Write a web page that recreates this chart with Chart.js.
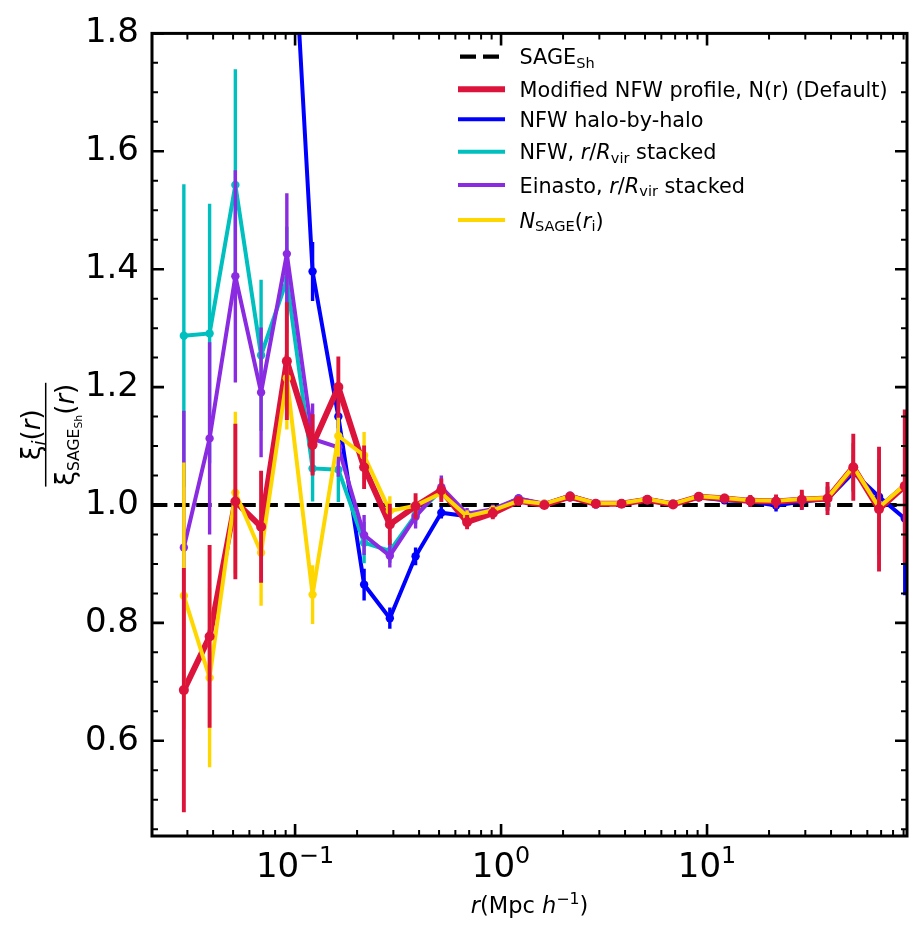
<!DOCTYPE html>
<html>
<head>
<title>xi ratio</title>
<style>
  body { margin: 0; background: #fff; }
  #wrap { width: 922px; height: 937px; }
</style>
</head>
<body>
<div id="wrap"><canvas id="ratio" width="922" height="937"></canvas></div>
<script src="https://cdn.jsdelivr.net/npm/chart.js@4.4.1/dist/chart.umd.min.js"></script>
<script>
// radial bins, Mpc/h
const radius = [0.02884, 0.03846, 0.05129, 0.06839, 0.0912, 0.1216, 0.1622, 0.2163, 0.2884, 0.3846,
  0.5129, 0.6839, 0.912, 1.216, 1.622, 2.163, 2.884, 3.846, 5.129, 6.839,
  9.12, 12.16, 16.22, 21.63, 28.84, 38.46, 51.29, 68.39, 91.2];

const sageSh = [1.0, 1.0];

const modNfw = [0.686, 0.777, 1.006, 0.963, 1.244, 1.102, 1.200, 1.064, 0.967, 0.998,
  1.025, 0.971, 0.986, 1.007, 1.000, 1.014, 1.002, 1.002, 1.009, 1.001,
  1.014, 1.011, 1.007, 1.006, 1.009, 1.011, 1.064, 0.993, 1.032];
const modNfwErr = [0.207, 0.155, 0.132, 0.095, 0.100, 0.052, 0.052, 0.037, 0.035, 0.022,
  0.020, 0.012, 0.010, 0.008, 0.006, 0.006, 0.005, 0.005, 0.006, 0.006,
  0.006, 0.006, 0.010, 0.012, 0.017, 0.028, 0.057, 0.106, 0.130];

const haloByHalo = [3.3, 3.0, 2.8, 2.5, 2.18, 1.396, 1.150, 0.865, 0.808, 0.913,
  0.987, 0.981, 0.990, 1.011, 1.001, 1.013, 1.001, 1.002, 1.008, 1.001,
  1.013, 1.008, 1.006, 0.999, 1.006, 1.010, 1.055, 1.014, 0.977];
const haloByHaloErr = [0.3, 0.3, 0.3, 0.3, 0.2, 0.050, 0.020, 0.027, 0.018, 0.015,
  0.010, 0.008, 0.006, 0.005, 0.004, 0.004, 0.004, 0.004, 0.005, 0.005,
  0.005, 0.006, 0.008, 0.010, 0.014, 0.020, 0.030, 0.060, 0.130];

const nfwStacked = [1.287, 1.291, 1.543, 1.254, 1.382, 1.062, 1.060, 0.936, 0.922, 0.983,
  1.025, 0.982, 0.992, 1.010, 1.001, 1.015, 1.002, 1.003, 1.010, 1.002,
  1.014, 1.011, 1.007, 1.006, 1.009, 1.011, 1.062, 0.996, 1.030];
const nfwStackedErr = [0.257, 0.220, 0.196, 0.128, 0.090, 0.056, 0.055, 0.035, 0.020, 0.015,
  0.012, 0.010, 0.008, 0.006, 0.005, 0.005, 0.005, 0.005, 0.005, 0.005,
  0.005, 0.006, 0.008, 0.010, 0.014, 0.020, 0.040, 0.080, 0.100];

const einasto = [0.928, 1.113, 1.388, 1.191, 1.426, 1.112, 1.098, 0.949, 0.914, 0.980,
  1.030, 0.985, 0.993, 1.011, 1.002, 1.016, 1.003, 1.003, 1.010, 1.002,
  1.015, 1.012, 1.008, 1.007, 1.010, 1.012, 1.065, 0.997, 1.033];
const einastoErr = [0.232, 0.163, 0.180, 0.110, 0.103, 0.060, 0.050, 0.034, 0.020, 0.020,
  0.020, 0.010, 0.008, 0.006, 0.005, 0.005, 0.005, 0.005, 0.005, 0.005,
  0.005, 0.006, 0.008, 0.010, 0.014, 0.020, 0.040, 0.080, 0.100];

const nSage = [0.846, 0.707, 1.021, 0.919, 1.215, 0.848, 1.117, 1.084, 0.990, 0.999,
  1.020, 0.981, 0.991, 1.007, 1.002, 1.015, 1.003, 1.003, 1.010, 1.002,
  1.015, 1.012, 1.008, 1.007, 1.010, 1.012, 1.065, 0.996, 1.034];
const nSageErr = [0.226, 0.152, 0.137, 0.090, 0.087, 0.050, 0.035, 0.040, 0.025, 0.015,
  0.012, 0.010, 0.008, 0.006, 0.005, 0.005, 0.005, 0.005, 0.005, 0.005,
  0.005, 0.006, 0.008, 0.010, 0.014, 0.020, 0.040, 0.080, 0.100];

const xRange = [0.0202, 93.5];
const yRange = [0.4385, 1.8];
const yTicks = [0.6, 0.8, 1.0, 1.2, 1.4, 1.6, 1.8];
const yTickLabels = ['0.6', '0.8', '1.0', '1.2', '1.4', '1.6', '1.8'];
const xTicks = [0.1, 1, 10];
const xTickLabels = [['10', '\u22121'], ['10', '0'], ['10', '1']];

const FONT = '"DejaVu Sans"';
Chart.defaults.font.family = FONT;

function pts(vals) {
  return radius.map((r, i) => ({ x: r, y: vals[i] }));
}

function series(label, vals, color, width, rad, order, errs) {
  return {
    label: label,
    data: pts(vals),
    borderColor: color,
    backgroundColor: color,
    borderWidth: width,
    pointRadius: rad,
    pointBackgroundColor: color,
    pointBorderColor: color,
    pointBorderWidth: 0,
    pointHoverRadius: rad,
    tension: 0,
    order: order,
    errors: errs,
    errColor: color
  };
}

// rich text helpers (sub/superscripts)
function fontOf(s, size) {
  return (s.it ? 'italic ' : '') + (size * (s.k || 1)) + 'px ' + FONT;
}
function richWidth(ctx, segs, size) {
  let w = 0;
  segs.forEach(s => { ctx.font = fontOf(s, size); w += ctx.measureText(s.t).width; });
  return w;
}
function drawRich(ctx, segs, x, y, size) {
  segs.forEach(s => {
    ctx.font = fontOf(s, size);
    ctx.fillText(s.t, x, y + (s.dy || 0) * size);
    x += ctx.measureText(s.t).width;
  });
  return x;
}

const errorBars = {
  id: 'errorBars',
  beforeDatasetDraw(chart, args) {
    const ds = chart.data.datasets[args.index];
    if (!ds.errors) return;
    const { ctx, chartArea: a, scales: { x, y } } = chart;
    ctx.save();
    ctx.beginPath();
    ctx.rect(a.left, a.top, a.right - a.left, a.bottom - a.top);
    ctx.clip();
    ctx.strokeStyle = ds.errColor;
    ctx.lineWidth = ds.errWidth || 3.4;
    ds.data.forEach((p, i) => {
      const e = ds.errors[i];
      const px = x.getPixelForValue(p.x);
      ctx.beginPath();
      ctx.moveTo(px, y.getPixelForValue(p.y - e));
      ctx.lineTo(px, y.getPixelForValue(p.y + e));
      ctx.stroke();
    });
    ctx.restore();
  }
};

const frame = {
  id: 'frame',
  afterDatasetsDraw(chart) {
    const { ctx, chartArea: a, scales: { x, y } } = chart;
    ctx.save();
    ctx.strokeStyle = '#000';
    ctx.lineCap = 'butt';
    function yTick(v, len, w) {
      const py = y.getPixelForValue(v);
      ctx.lineWidth = w;
      ctx.beginPath();
      ctx.moveTo(a.left, py); ctx.lineTo(a.left + len, py);
      ctx.moveTo(a.right, py); ctx.lineTo(a.right - len, py);
      ctx.stroke();
    }
    function xTick(v, len, w) {
      const px = x.getPixelForValue(v);
      ctx.lineWidth = w;
      ctx.beginPath();
      ctx.moveTo(px, a.bottom); ctx.lineTo(px, a.bottom - len);
      ctx.moveTo(px, a.top); ctx.lineTo(px, a.top + len);
      ctx.stroke();
    }
    for (let i = 9; i <= 36; i++) {
      const v = i * 0.05;
      if (i % 4 !== 0) yTick(v, 6, 2);
    }
    yTicks.forEach(v => yTick(v, 12, 2.6));
    for (let d = -2; d <= 1; d++) {
      for (let m = 2; m <= 9; m++) {
        const v = m * Math.pow(10, d);
        if (v > xRange[0] && v < xRange[1]) xTick(v, 6, 2);
      }
    }
    xTicks.forEach(v => xTick(v, 12, 2.6));
    ctx.lineWidth = 3;
    ctx.strokeRect(a.left, a.top, a.right - a.left, a.bottom - a.top);
    ctx.restore();
  },
  afterDraw(chart) {
    const { ctx, chartArea: a, scales: { x } } = chart;
    ctx.save();
    ctx.fillStyle = '#000';
    ctx.textBaseline = 'alphabetic';
    ctx.textAlign = 'left';

    // x tick labels
    xTicks.forEach((v, i) => {
      const segs = [{ t: xTickLabels[i][0] }, { t: xTickLabels[i][1], k: 0.7, dy: -0.41 }];
      const w = richWidth(ctx, segs, 34);
      drawRich(ctx, segs, x.getPixelForValue(v) - w / 2, 877, 34);
    });

    // x title
    const xt = [{ t: 'r', it: true }, { t: '(Mpc ' }, { t: 'h', it: true },
      { t: '\u22121', k: 0.7, dy: -0.4 }, { t: ')' }];
    const xw = richWidth(ctx, xt, 22.5);
    drawRich(ctx, xt, (a.left + a.right) / 2 - xw / 2, 913, 22.5);

    // y title as a fraction
    ctx.save();
    ctx.translate(45.7, (a.top + a.bottom) / 2);
    ctx.rotate(-Math.PI / 2);
    const num = [{ t: '\u03be' }, { t: 'i', it: true, k: 0.7, dy: 0.2 }, { t: '(' }, { t: 'r', it: true }, { t: ')' }];
    const den = [{ t: '\u03be' }, { t: 'SAGE', k: 0.6, dy: 0.2 }, { t: 'Sh', k: 0.42, dy: 0.33 },
      { t: '(' }, { t: 'r', it: true }, { t: ')' }];
    const nw = richWidth(ctx, num, 26);
    const dw = richWidth(ctx, den, 26);
    const bar = Math.max(nw, dw) / 2 + 1;
    ctx.lineWidth = 1.5;
    ctx.strokeStyle = '#000';
    ctx.beginPath();
    ctx.moveTo(-bar, 0); ctx.lineTo(bar, 0);
    ctx.stroke();
    drawRich(ctx, num, -nw / 2, -6, 26);
    drawRich(ctx, den, -dw / 2, 28, 26);
    ctx.restore();

    // legend
    const rows = [
      { y: 56.7, color: '#000', width: 4.2, dash: [16, 7], segs: [{ t: 'SAGE' }, { t: 'Sh', k: 0.7, dy: 0.16 }] },
      { y: 89.3, color: '#dc143c', width: 6, segs: [{ t: 'Modified NFW profile, N(r) (Default)' }] },
      { y: 119.3, color: '#0000ff', width: 4, segs: [{ t: 'NFW halo-by-halo' }] },
      { y: 151.7, color: '#00bfbf', width: 4, segs: [{ t: 'NFW, ' }, { t: 'r', it: true }, { t: '/' },
        { t: 'R', it: true }, { t: 'vir', k: 0.7, dy: 0.16 }, { t: ' stacked' }] },
      { y: 185, color: '#8a2be2', width: 4, segs: [{ t: 'Einasto, ' }, { t: 'r', it: true }, { t: '/' },
        { t: 'R', it: true }, { t: 'vir', k: 0.7, dy: 0.16 }, { t: ' stacked' }] },
      { y: 220, color: '#ffd700', width: 4, segs: [{ t: 'N', it: true }, { t: 'SAGE', k: 0.7, dy: 0.16 },
        { t: '(' }, { t: 'r', it: true }, { t: 'i', k: 0.7, dy: 0.16 }, { t: ')' }] }
    ];
    rows.forEach(r => {
      ctx.save();
      ctx.strokeStyle = r.color;
      ctx.lineWidth = r.width;
      ctx.setLineDash(r.dash || []);
      ctx.beginPath();
      if (r.dash) { ctx.moveTo(460, r.y); ctx.lineTo(499, r.y); }
      else { ctx.moveTo(458, r.y); ctx.lineTo(505, r.y); }
      ctx.stroke();
      ctx.restore();
      drawRich(ctx, r.segs, 519.5, r.y + 7.5, 20.8);
    });
    ctx.restore();
  }
};

const redLine = series('Modified NFW profile, N(r) (Default)', modNfw, '#dc143c', 6, 0, 3, null);
const redMarks = series('', modNfw, '#dc143c', 0, 5, 1, modNfwErr);
redMarks.showLine = false;
redMarks.errWidth = 3.9;

const sageLine = {
  label: 'SAGE_Sh',
  data: xRange.map((r, i) => ({ x: r, y: sageSh[i] })),
  borderColor: '#000',
  borderWidth: 4.2,
  borderDash: [15.4, 6.7],
  pointRadius: 0,
  order: 7
};

const ctx = document.getElementById('ratio').getContext('2d');
const chart = new Chart(ctx, {
  type: 'line',
  data: {
    datasets: [
      sageLine,
      series('NFW halo-by-halo', haloByHalo, '#0000ff', 4, 4.2, 6, haloByHaloErr),
      series('NFW, r/Rvir stacked', nfwStacked, '#00bfbf', 4, 4.2, 5, nfwStackedErr),
      series('Einasto, r/Rvir stacked', einasto, '#8a2be2', 4, 4.2, 4, einastoErr),
      redLine,
      series('N_SAGE(r_i)', nSage, '#ffd700', 4, 4.2, 2, nSageErr),
      redMarks
    ]
  },
  options: {
    responsive: false,
    animation: false,
    events: [],
    layout: { padding: { left: 0, top: 28, right: 15, bottom: 0 } },
    plugins: { legend: { display: false }, tooltip: { enabled: false } },
    scales: {
      x: {
        type: 'logarithmic',
        min: xRange[0],
        max: xRange[1],
        grid: { display: false, drawTicks: false },
        border: { display: false },
        ticks: { display: false },
        afterFit(scale) { scale.height = 101; }
      },
      y: {
        type: 'linear',
        min: yRange[0],
        max: yRange[1],
        grid: { display: false, drawTicks: false },
        border: { display: false },
        afterBuildTicks(scale) { scale.ticks = yTicks.map(v => ({ value: v })); },
        ticks: {
          color: '#000',
          padding: 13,
          font: { size: 34, family: FONT },
          callback: (v) => yTickLabels[yTicks.findIndex(t => Math.abs(t - v) < 1e-6)]
        },
        afterFit(scale) { scale.width = 152; }
      }
    }
  },
  plugins: [errorBars, frame]
});
</script>
</body>
</html>
